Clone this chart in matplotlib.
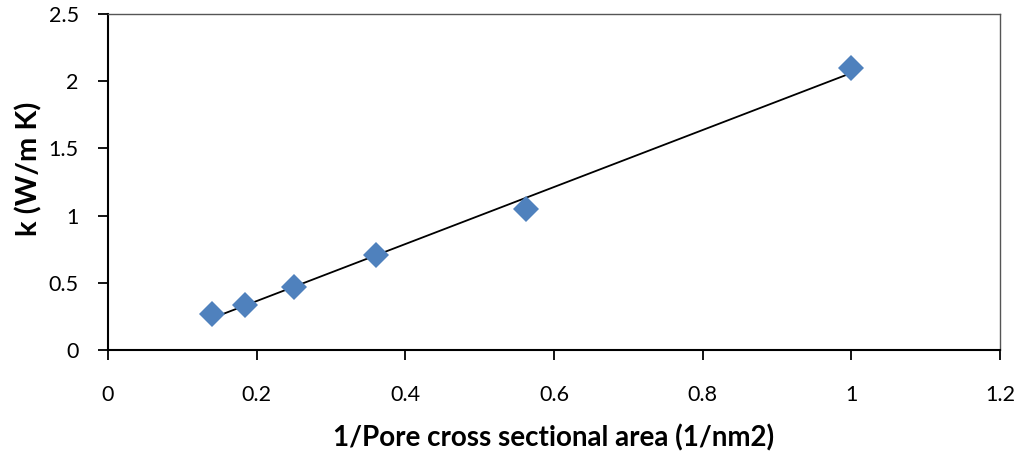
import numpy as np
import matplotlib
matplotlib.use("Agg")
import matplotlib.pyplot as plt

x_vals = [0.14, 0.184, 0.25, 0.36, 0.5625, 1.0]
k_vals = [0.27, 0.335, 0.47, 0.71, 1.05, 2.10]
x_ticks = [0, 0.2, 0.4, 0.6, 0.8, 1.0, 1.2]
x_tick_labels = ["0", "0.2", "0.4", "0.6", "0.8", "1", "1.2"]
y_ticks = [0, 0.5, 1.0, 1.5, 2.0, 2.5]
y_tick_labels = ["0", "0.5", "1", "1.5", "2", "2.5"]

plt.rcParams['font.family'] = ['Lato', 'DejaVu Sans']

fig = plt.figure(figsize=(10.23, 4.55), dpi=100)
ax = fig.add_axes([108/1023, 1 - 350/455, (1000-108)/1023, (350-14)/455])

# trend line (linear fit)
coef = np.polyfit(x_vals, k_vals, 1)
xs = np.array([min(x_vals), max(x_vals)])
ax.plot(xs, np.polyval(coef, xs), color='black', lw=1.3, zorder=2)

ax.plot(x_vals, k_vals, linestyle='none', marker='D', markersize=13,
        color='#4F81BD', markeredgewidth=0, zorder=3)

ax.set_xlim(0, 1.2)
ax.set_ylim(0, 2.5)
ax.set_xticks(x_ticks)
ax.set_xticklabels(x_tick_labels)
ax.set_yticks(y_ticks)
ax.set_yticklabels(y_tick_labels)
ax.tick_params(axis='both', direction='out', length=7, width=1.3, labelsize=15.5, colors='black')
ax.tick_params(axis='x', pad=18)
ax.tick_params(axis='y', pad=14)

for s in ['left', 'bottom']:
    ax.spines[s].set_linewidth(1.5)
    ax.spines[s].set_color('black')
for s in ['top', 'right']:
    ax.spines[s].set_linewidth(1.0)
    ax.spines[s].set_color('#555555')

ax.set_xlabel("1/Pore cross sectional area (1/nm2)", fontsize=20, fontweight='bold', labelpad=14)
ax.set_ylabel("k (W/m K)", fontsize=21, fontweight='bold')
ax.yaxis.set_label_coords(-0.074, 0.54)

fig.savefig("out.png", dpi=100)
